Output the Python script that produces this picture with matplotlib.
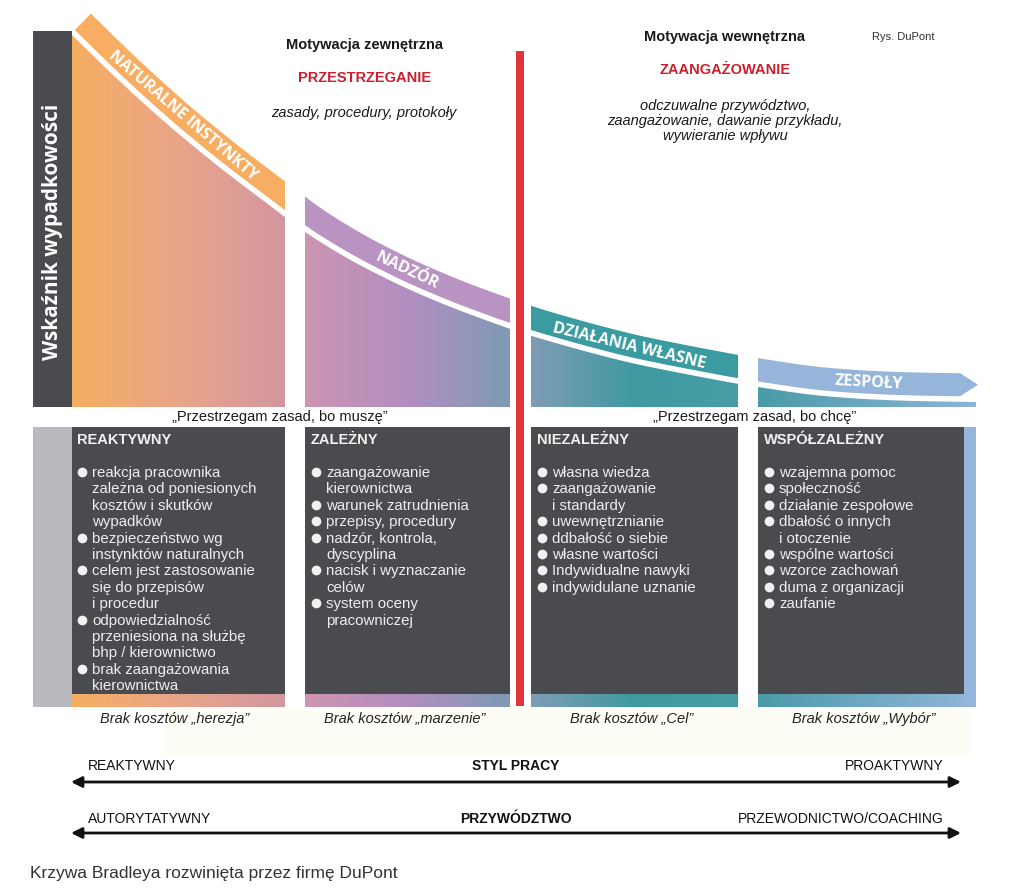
import numpy as np
import matplotlib.pyplot as plt
from matplotlib.patches import Polygon, Rectangle
from matplotlib.colors import LinearSegmentedColormap

plt.rcParams['font.family'] = ['Liberation Sans', 'DejaVu Sans']

# Bradley curve: accident rate (height above base line, px)
curve_x = [71, 120, 170, 220, 285, 305, 355, 405, 455, 510,
           531, 580, 630, 680, 738, 758, 810, 860, 910, 976]
curve_h = [373, 325, 280, 239, 190, 174, 144, 119, 98, 78,
           71, 57, 44, 34, 23, 20, 12, 8, 6, 5]

# stages
seg_start = [71, 305, 531, 758]
seg_end = [285, 510, 738, 976]
band_labels = ['NATURALNE INSTYNKTY', 'NADZÓR', 'DZIAŁANIA WŁASNE', 'ZESPOŁY']
headers = ['REAKTYWNY', 'ZALEŻNY', 'NIEZALEŻNY', 'WSPÓŁZALEŻNY']
bullets = [
    ['reakcja pracownika\nzależna od poniesionych\nkosztów i skutków\nwypadków',
     'bezpieczeństwo wg\ninstynktów naturalnych',
     'celem jest zastosowanie\nsię do przepisów\ni procedur',
     'odpowiedzialność\nprzeniesiona na służbę\nbhp / kierownictwo',
     'brak zaangażowania\nkierownictwa'],
    ['zaangażowanie\nkierownictwa', 'warunek zatrudnienia', 'przepisy, procedury',
     'nadzór, kontrola,\ndyscyplina', 'nacisk i wyznaczanie\ncelów',
     'system oceny\npracowniczej'],
    ['własna wiedza', 'zaangażowanie\ni standardy', 'uwewnętrznianie',
     'ddbałość o siebie', 'własne wartości', 'Indywidualne nawyki',
     'indywidulane uznanie'],
    ['wzajemna pomoc', 'społeczność', 'działanie zespołowe',
     'dbałość o innych\ni otoczenie', 'wspólne wartości', 'wzorce zachowań',
     'duma z organizacji', 'zaufanie'],
]
cost_labels = ['Brak kosztów „herezja”', 'Brak kosztów „marzenie”',
               'Brak kosztów „Cel”', 'Brak kosztów „Wybór”']

# colours
band_colors = ['#F7AE63', '#B993C2', '#3A9BA0', '#95B5DB']
grad_colors = [['#F6AE60', '#E9A589', '#D2979F'],
               ['#CD95B1', '#B28EC1', '#7E9BB5'],
               ['#809CB5', '#3E9AA1', '#4A9DA6'],
               ['#4A9AA7', '#6DA8C0', '#8FB4D6']]
dark = '#4A4B4F'
red = '#C8202F'

base = 408
label_x = [172, 400, 625, 868]
gap, thick = 5.5, 23

fig = plt.figure(figsize=(10.24, 8.95), dpi=100)
ax = fig.add_axes([0, 0, 1, 1])
ax.set_xlim(0, 1024)
ax.set_ylim(895, 0)
ax.axis('off')

# smooth version of the read-off curve for drawing
gx = np.arange(-60.0, 1100.0, 1.0)
gh = np.interp(gx, curve_x, curve_h)
s0 = (curve_h[1] - curve_h[0]) / (curve_x[1] - curve_x[0])
s1 = (curve_h[-1] - curve_h[-2]) / (curve_x[-1] - curve_x[-2])
gh = np.where(gx < curve_x[0], curve_h[0] + s0 * (gx - curve_x[0]), gh)
gh = np.where(gx > curve_x[-1], curve_h[-1] + s1 * (gx - curve_x[-1]), gh)
kern = np.exp(-0.5 * (np.arange(-45, 46) / 15.0) ** 2)
kern /= kern.sum()
gh = np.convolve(np.pad(gh, 45, mode='edge'), kern, mode='valid')


def curve_y(x):
    return base - np.interp(x, gx, gh)


def offset(xs, d):
    ys = curve_y(xs)
    dy = (curve_y(xs + 0.5) - curve_y(xs - 0.5))
    n = np.sqrt(1 + dy ** 2)
    return xs + d * dy / n, ys - d / n, dy


def gradient(x0, x1, y0, y1, cols, clip=None):
    cmap = LinearSegmentedColormap.from_list('g', cols)
    img = np.linspace(0, 1, 256).reshape(1, -1)
    im = ax.imshow(img, cmap=cmap, extent=(x0, x1, y1, y0), aspect='auto',
                   interpolation='bilinear', zorder=2)
    if clip is not None:
        im.set_clip_path(clip)
    return im


# light background behind cost labels
ax.add_patch(Rectangle((163, 708), 807, 49, color='#FEFDF5', lw=0, zorder=0))

# left axis bar
ax.add_patch(Rectangle((33, 32), 39, base - 32, color=dark, lw=0, zorder=3))
ax.text(53, 232, 'Wskaźnik wypadkowości', rotation=90, ha='center', va='center',
        color='white', fontsize=15, fontweight='bold', family='Open Sans', zorder=4)

for i in range(4):
    x0, x1 = seg_start[i], seg_end[i]
    # gradient area under the curve
    xs = np.linspace(x0, x1, 200)
    ys = curve_y(xs)
    poly = Polygon(np.column_stack([np.r_[xs, x1, x0], np.r_[ys, base, base]]),
                   closed=True, fc='none', ec='none', transform=ax.transData)
    ax.add_patch(poly)
    gradient(x0, x1, ys.min() - 2, base, grad_colors[i], clip=poly)

    # band above the curve
    lo = x0 if i == 0 else x0 - 25
    hi = 960 if i == 3 else x1 + 25
    bx = np.linspace(lo, hi, 300)
    ix, iy, _ = offset(bx, gap)
    ox, oy, _ = offset(bx, gap + thick)
    pts = [np.column_stack([ix, iy])]
    if i == 3:
        pts.append([[978, (iy[-1] + oy[-1]) / 2]])
    pts.append(np.column_stack([ox[::-1], oy[::-1]]))
    band = Polygon(np.vstack(pts), closed=True, fc=band_colors[i], ec='none', zorder=3)
    ax.add_patch(band)
    clip_lo = 0 if i == 0 else x0
    clip_hi = 1000 if i == 3 else x1
    band.set_clip_path(Rectangle((clip_lo, 0), clip_hi - clip_lo, 895,
                                 transform=ax.transData))

    # label along band
    mx, my, sl = offset(np.array([float(label_x[i])]), gap + thick / 2)
    ang = -np.degrees(np.arctan(sl[0]))
    ax.text(mx[0], my[0], band_labels[i], rotation=ang, rotation_mode='anchor',
            ha='center', va='center', color='white', fontsize=11.5,
            fontweight='bold', family='Open Sans', zorder=4)

    # lower box
    bx1 = 964 if i == 3 else x1
    ax.add_patch(Rectangle((x0, 428), bx1 - x0, 267, color=dark, lw=0, zorder=3))
    gradient(x0, bx1, 695, 708, grad_colors[i])
    ax.text(x0 + 6, 440, headers[i], ha='left', va='center', color='#F2F2F2',
            fontsize=10.5, fontweight='bold', zorder=4)
    line = 0
    for item in bullets[i]:
        ax.plot(x0 + 11, 473 + line * 16.4, 'o', ms=7, color='#F2F2F2', mec='none',
                zorder=4)
        for part in item.split('\n'):
            ax.text(x0 + 21, 473 + line * 16.4, part, ha='left', va='center',
                    color='#EEEEEE', fontsize=10.8, zorder=4)
            line += 1
    ax.text((x0 + x1) / 2 - 3, 719, cost_labels[i], ha='center', va='center',
            fontsize=10.5, style='italic', color='#222222', zorder=4)

# side strips
ax.add_patch(Rectangle((33, 428), 39, 280, color='#B9BABD', lw=0, zorder=3))
ax.add_patch(Rectangle((964, 428), 12, 280, color='#95B5DB', lw=0, zorder=3))

# red divider
ax.add_patch(Rectangle((516, 52), 8, 655, color='#E3343C', lw=0, zorder=5))

# headline texts
ax.text(365, 45, 'Motywacja zewnętrzna', ha='center', va='center', fontsize=10.5,
        fontweight='bold', color='#1A1A1A')
ax.text(365, 78, 'PRZESTRZEGANIE', ha='center', va='center', fontsize=10.5,
        fontweight='bold', color=red)
ax.text(364, 113, 'zasady, procedury, protokoły', ha='center', va='center',
        fontsize=10.5, style='italic', color='#1A1A1A')
ax.text(725, 37, 'Motywacja wewnętrzna', ha='center', va='center', fontsize=10.5,
        fontweight='bold', color='#1A1A1A')
ax.text(872, 37, 'Rys. DuPont', ha='left', va='center', fontsize=8, color='#333333')
ax.text(725, 70, 'ZAANGAŻOWANIE', ha='center', va='center', fontsize=10.5,
        fontweight='bold', color=red)
ax.text(725, 121, 'odczuwalne przywództwo,\nzaangażowanie, dawanie przykładu,\nwywieranie wpływu',
        ha='center', va='center', fontsize=10.5, style='italic', color='#1A1A1A',
        linespacing=1.05)
ax.text(280, 417, '„Przestrzegam zasad, bo muszę”', ha='center', va='center',
        fontsize=10.5, color='#1A1A1A')
ax.text(755, 417, '„Przestrzegam zasad, bo chcę”', ha='center', va='center',
        fontsize=10.5, color='#1A1A1A')

# scales at the bottom
scales = [('REAKTYWNY', 'STYL PRACY', 'PROAKTYWNY', 766, 783),
          ('AUTORYTATYWNY', 'PRZYWÓDZTWO', 'PRZEWODNICTWO/COACHING', 819, 834)]
for left, mid, right, ty, ay in scales:
    ax.text(88, ty, left, ha='left', va='center', fontsize=10, color='#111111')
    ax.text(516, ty, mid, ha='center', va='center', fontsize=10, fontweight='bold',
            color='#111111')
    ax.text(944, ty, right, ha='right', va='center', fontsize=10, color='#111111')
    ax.annotate('', xy=(961, ay), xytext=(71, ay),
                arrowprops=dict(arrowstyle='<|-|>', lw=2, color='#111111',
                                mutation_scale=16, shrinkA=0, shrinkB=0))

ax.text(30, 874, 'Krzywa Bradleya rozwinięta przez firmę DuPont', ha='left',
        va='center', fontsize=12.5, color='#333333')

fig.savefig('out.png', dpi=100)
